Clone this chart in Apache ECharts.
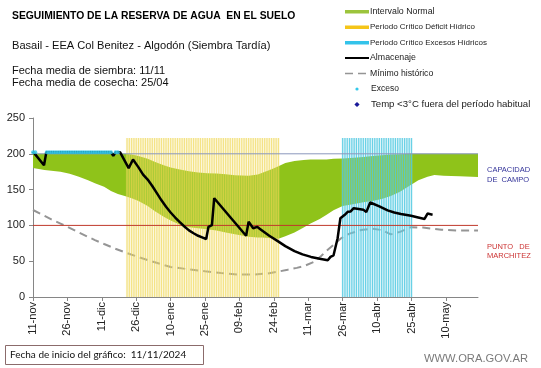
<!DOCTYPE html>
<html><head><meta charset="utf-8">
<script src="https://cdn.jsdelivr.net/npm/echarts@6/dist/echarts.min.js"></script>
<style>html,body{margin:0;padding:0;background:#fff}#c{width:541px;height:368px}</style>
</head><body><div id="c"></div>
<script>
// ---- data ----
const tickLabels = ['11-nov','26-nov','11-dic','26-dic','10-ene','25-ene','09-feb','24-feb','11-mar','26-mar','10-abr','25-abr','10-may'];
const axisMaxDay = 194;
const bandDays  = [0,5,12,16,20,24,27,31,34,37,40,43,46,50,53,57,60,64,68,72,76,80,84,88,94,98,100,104,107,110,114,118,121,125,128,131,135,140,144,148,152,156,160,164,168,172,175,179,186,194];
const bandLower = [180,177.5,175,172,168,163,159,154,148,144,141,138,134,127,120,112,107,101,97.5,96,94.5,93,90,87.5,84,83,83,82,81.5,85,90,97,102.5,109,115,121,127,130,132.5,134,137,141,147,155,163,168,170.5,169.5,168.5,167.5];
const bandUpper = [200,200,200,200,200,200,200,200,200,200,200,199,197,193,189,184,181,178,175.5,174,173,172.5,171.5,170,169.5,171,173.5,178.5,182.5,187,190,191.5,192,192,192,193,193.5,194.5,195.5,197,198,199,199.5,200,200,200,200,200,200,200];
const almDays   = [0,4.8,5.8,34,35,36,38,41.7,43.6,46,48,50,52,54,56,58,60,62,64,66,68,70,72,74,75.5,76.5,78,79,86.4,92.9,94,96,97.7,99.4,103,106.7,110,114,117.5,121.2,125,128.5,129.7,131,132.8,134,135.8,137.2,138.5,139.8,142,144,145.3,147,151,154.6,157.5,160.4,164.8,167.5,170.7,172,174.2];
const almValues = [203,184,202,202,197,202,202,180,192,181,171,164,155,145,135,126,118,111,104.5,98.5,93,89,85.5,83,81,98,100.5,138,110,85.5,105,96,98,94,85.5,78,71,64,59.5,56,53.5,51.4,56,58,82,110,114.5,119,119.5,124,123,122,118.5,132,126.5,121,118,116,113.6,111.5,109,116.5,115];
const minDays   = [0,4,8,12,15,20,24,27,31,35.6,40,45.7,52,60,67,75,82,89,96,102,107,111,115,118,122.5,125.5,128.5,131.5,134.3,138,143,148,152,156,160,164.8,170,178,186,194];
const minValues = [121.5,115,108.5,102.5,98,90,84,79.5,74,67.8,62.5,56,49.5,42,39,36,33.5,31.5,31.4,32.7,35.5,38,40.7,43,49,57,66,74,82,88.5,93.5,95.5,93.5,87.5,91,97.5,97,94,92.7,93];
const excesoDays = [0,1,6,7,8,9,10,11,12,13,14,15,16,17,18,19,20,21,22,23,24,25,26,27,28,29,30,31,32,33,34,36,37];
const excesoValue = 202;
const deficitPeriod = [41,107];
const excessPeriod = [135,165];
const periodTop = 222;
const capacidadCampo = 200;
const puntoMarchitez = 100;

// ---- build ----
const pairs = (xs, ys) => xs.map((x,i)=>[x, ys[i]]);
const periodDays = p => { const a=[]; for(let d=p[0]; d<=p[1]; d++) a.push([d, periodTop]); return a; };
function stripeSeries(p, tint, stripe){
  return {type:'custom', z:3, silent:true, data: periodDays(p),
    renderItem:(params, api)=>{
      const top = api.coord([api.value(0), api.value(1)]);
      const bot = api.coord([api.value(0), 0]);
      const a = api.coord([api.value(0)-0.5, 0]), b = api.coord([api.value(0)+0.5, 0]);
      return {type:'group', children:[
        {type:'rect', shape:{x:a[0], y:top[1], width:b[0]-a[0], height:bot[1]-top[1]}, style:{fill:tint}},
        {type:'rect', shape:{x:top[0]-0.6, y:top[1], width:1.2, height:bot[1]-top[1]}, style:{fill:stripe}}
      ]};
    }};
}
const F = 'Liberation Sans, Arial, sans-serif';
const chart = echarts.init(document.getElementById('c'), null, {renderer:'canvas'});
const txt = (x,y,t,font,fill,extra)=>Object.assign({type:'text', x, y, style:{text:t, font, fill, verticalAlign:'middle', align:'left'}, z:100}, extra||{});
const legX = 345, legTX = 370;
const legRows = [11.5, 27, 42.5, 58, 73.5, 89, 104.5];
chart.setOption({
  animation:false,
  grid:{left:33, right:63, top:118, bottom:71, containLabel:false, outerBoundsMode:'none'},
  xAxis:{type:'value', min:0, max:axisMaxDay, interval:15,
    axisLine:{lineStyle:{color:'#868686', width:1}},
    axisTick:{show:true, length:4, lineStyle:{color:'#868686'}},
    axisLabel:{rotate:90, margin:5, fontSize:11, fontFamily:F, color:'#222', showMaxLabel:false,
      formatter:v=>{ if (v%15!==0) return ''; return tickLabels[v/15]||''; }},
    splitLine:{show:false}},
  yAxis:{type:'value', min:0, max:250, interval:50,
    name:'Milimetros', nameLocation:'middle', nameGap:25, nameRotate:90,
    nameTextStyle:{fontSize:8, fontFamily:F, color:'#222'},
    axisLine:{show:true, lineStyle:{color:'#868686', width:1}},
    axisTick:{show:true, length:4, lineStyle:{color:'#868686'}},
    axisLabel:{margin:8, fontSize:11, fontFamily:F, color:'#222'},
    splitLine:{show:false}},
  series:[
    {type:'custom', z:1, silent:true, data:[0],
      renderItem:(params, api)=>{
        const pts = [];
        bandDays.forEach((d,i)=>pts.push(api.coord([d, bandUpper[i]])));
        for (let i=bandDays.length-1; i>=0; i--) pts.push(api.coord([bandDays[i], bandLower[i]]));
        return {type:'polygon', shape:{points:pts}, style:{fill:'#8fc31a'}};
      }},
    {type:'line', z:2, symbol:'none', data:pairs(minDays, minValues), lineStyle:{color:'#959595', width:2, type:[8,5]}},
    stripeSeries(deficitPeriod, 'rgba(245,228,140,0.3)', 'rgba(238,212,70,0.58)'),
    stripeSeries(excessPeriod, 'rgba(150,220,235,0.3)', 'rgba(75,200,225,0.8)'),
    {type:'line', z:4, symbol:'none', data:[[0,capacidadCampo],[axisMaxDay,capacidadCampo]], lineStyle:{color:'#8a97bd', width:1}},
    {type:'line', z:4, symbol:'none', data:[[0,puntoMarchitez],[axisMaxDay,puntoMarchitez]], lineStyle:{color:'#c0392b', width:1}},
    {type:'line', z:5, symbol:'none', data:pairs(almDays, almValues), lineStyle:{color:'#000', width:2.5}},
    {type:'scatter', z:6, symbol:'circle', symbolSize:4, data:excesoDays.map(d=>[d, excesoValue]), itemStyle:{color:'#33c8ea'}}
  ],
  graphic:[
    txt(12, 16, 'SEGUIMIENTO DE LA RESERVA DE AGUA  EN EL SUELO', 'bold 10.35px '+F, '#000'),
    txt(12, 45.5, 'Basail - EEA Col Benitez - Algodón (Siembra Tardía)', '11.1px '+F, '#111'),
    txt(12, 71, 'Fecha media de siembra: 11/11', '11px '+F, '#111'),
    txt(12, 83, 'Fecha media de cosecha: 25/04', '11px '+F, '#111'),
    // legend
    {type:'rect', shape:{x:legX, y:legRows[0]-1.5, width:24, height:3.5}, style:{fill:'#9cc43c'}, z:100},
    txt(legTX, legRows[0], 'Intervalo Normal', '8.8px '+F, '#222'),
    {type:'rect', shape:{x:legX, y:legRows[1]-1.5, width:24, height:3.5}, style:{fill:'#f5c518'}, z:100},
    txt(legTX, legRows[1], 'Periodo Crítico Déficit Hídrico', '8px '+F, '#222'),
    {type:'rect', shape:{x:legX, y:legRows[2]-1.5, width:24, height:3.5}, style:{fill:'#33c3ea'}, z:100},
    txt(legTX, legRows[2], 'Periodo Crítico Excesos Hídricos', '8px '+F, '#222'),
    {type:'line', shape:{x1:legX, y1:legRows[3], x2:legX+24, y2:legRows[3]}, style:{stroke:'#000', lineWidth:2}, z:100},
    txt(legTX, legRows[3], 'Almacenaje', '8.8px '+F, '#222'),
    {type:'line', shape:{x1:legX, y1:legRows[4], x2:legX+24, y2:legRows[4]}, style:{stroke:'#959595', lineWidth:1.5, lineDash:[8,5]}, z:100},
    txt(legTX, legRows[4], 'Mínimo histórico', '8.7px '+F, '#222'),
    {type:'circle', shape:{cx:legX+12, cy:legRows[5], r:1.6}, style:{fill:'#33c8ea'}, z:100},
    txt(legTX+1, legRows[5], 'Exceso', '8.5px '+F, '#222'),
    {type:'polygon', shape:{points:[[legX+12,legRows[6]-2.6],[legX+14.6,legRows[6]],[legX+12,legRows[6]+2.6],[legX+9.4,legRows[6]]]}, style:{fill:'#1a1a9a'}, z:100},
    txt(legTX+1, legRows[6], 'Temp <3°C fuera del período habitual', '9.6px '+F, '#222'),
    // right labels
    txt(487, 170, 'CAPACIDAD', '7.5px '+F, '#333399'),
    txt(487, 179.5, 'DE  CAMPO', '7.5px '+F, '#333399'),
    txt(487, 246.5, 'PUNTO   DE', '7.5px '+F, '#cc3333'),
    txt(487, 256, 'MARCHITEZ', '7.5px '+F, '#cc3333'),
    // footer
    {type:'rect', shape:{x:5.5, y:345.5, width:198, height:19}, style:{fill:'none', stroke:'#8b6b6b', lineWidth:1}, z:100},
    txt(10, 355, 'Fecha de inicio del gráfico:  11/11/2024', '10px Lato, '+F, '#111'),
    txt(424, 359, 'WWW.ORA.GOV.AR', '11.2px '+F, '#7a7a7a')
  ]
});
</script></body></html>
